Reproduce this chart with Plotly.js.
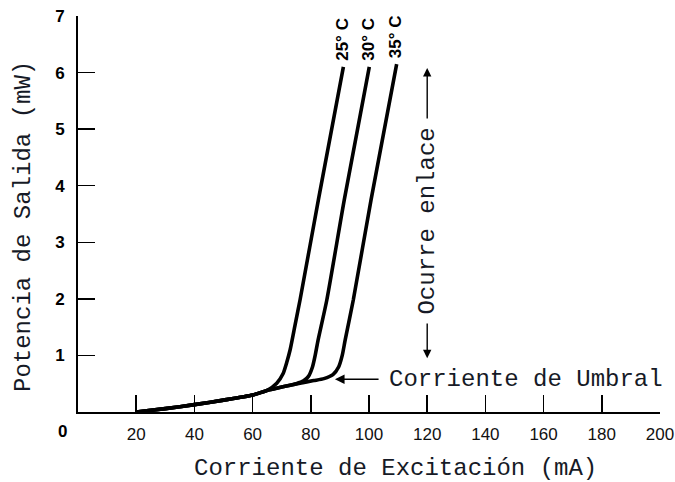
<!DOCTYPE html>
<html>
<head>
<meta charset="utf-8">
<script src="https://cdn.plot.ly/plotly-3.0.1.min.js"></script>
<style>html,body{margin:0;padding:0;background:#fff;}#chart{width:675px;height:482px;}</style>
</head>
<body>
<div id="chart"></div>
<script>
// Data (current in mA, power in mW)
const current25 = [20, 30, 40, 50, 60, 64.9, 68.3, 70.5, 71.7, 72.9, 74.6, 76.3, 82.6, 91.2];
const power25   = [0, 0.06, 0.13, 0.21, 0.30, 0.38, 0.51, 0.68, 0.87, 1.10, 1.54, 1.98, 3.75, 6.10];

const current30 = [20, 30, 40, 50, 60, 64.9, 70, 75, 77.5, 79.2, 80.6, 81.5, 82.5, 85.5, 91.5, 100.1];
const power30   = [0, 0.06, 0.13, 0.21, 0.30, 0.38, 0.44, 0.50, 0.55, 0.63, 0.80, 1.00, 1.27, 1.98, 3.75, 6.10];

const current35 = [20, 30, 40, 50, 60, 64.9, 70, 76.3, 81, 84.5, 87.6, 89.6, 90.8, 91.8, 94.6, 100.7, 109.5];
const power35   = [0, 0.06, 0.13, 0.21, 0.30, 0.38, 0.44, 0.51, 0.555, 0.59, 0.66, 0.80, 1.00, 1.27, 1.98, 3.75, 6.15];

const seriesNames = ["25° C", "30° C", "35° C"];
const xTickVals = [20, 40, 60, 80, 100, 120, 140, 160, 180, 200];
const yTickVals = [1, 2, 3, 4, 5, 6, 7];

const monoFont = {family: "Liberation Mono, Courier New, monospace", size: 24, color: "#161a26"};
const boldSans = {family: "Liberation Sans, Arial, sans-serif", size: 17, color: "#000"};

const series = [[current25, power25], [current30, power30], [current35, power35]];
const traces = series.map((s, i) => ({
  x: s[0], y: s[1], name: seriesNames[i], type: "scatter", mode: "lines",
  line: {color: "#000", width: 3.6, shape: "spline", smoothing: 0.6},
  hoverinfo: "skip"
}));

const L = 78, R = 15, T = 16, B = 70, W = 675, H = 482;
const pw = W - L - R, ph = H - T - B;

const annotations = [];
// temperature labels at curve tops
series.forEach((s, i) => {
  annotations.push({
    x: s[0][s[0].length - 1], y: s[1][s[1].length - 1], xref: "x", yref: "y",
    text: "<b>" + seriesNames[i] + "</b>", showarrow: false, textangle: -90,
    xanchor: "center", yanchor: "bottom", yshift: 4, xshift: -1, font: boldSans
  });
});
// origin label
annotations.push({x: 0, y: 0, xref: "x", yref: "y", text: "<b>0</b>", showarrow: false,
  xanchor: "center", yanchor: "middle",
  xshift: -16, yshift: -19, font: {family: "Liberation Sans, Arial, sans-serif", size: 17, color: "#000"}});
// Corriente de Umbral with arrow
annotations.push({x: 106.3, y: 0.58, xref: "x", yref: "y", text: "Corriente de Umbral",
  showarrow: false, xanchor: "left", yanchor: "middle", font: monoFont});
annotations.push({x: 88.3, y: 0.58, ax: 103.8, ay: 0.58, xref: "x", yref: "y", axref: "x", ayref: "y",
  text: "", showarrow: true, arrowhead: 2, arrowsize: 1.2, arrowwidth: 1.6, arrowcolor: "#000"});
// Ocurre enlace with arrows
annotations.push({x: 120, y: 3.37, xref: "x", yref: "y", text: "Ocurre enlace", showarrow: false,
  xanchor: "center", yanchor: "middle", textangle: -90, font: monoFont});
annotations.push({x: 120, y: 6.08, ax: 120, ay: 5.16, xref: "x", yref: "y", axref: "x", ayref: "y",
  text: "", showarrow: true, arrowhead: 2, arrowsize: 1.2, arrowwidth: 1.4, arrowcolor: "#000"});
annotations.push({x: 120, y: 0.95, ax: 120, ay: 1.59, xref: "x", yref: "y", axref: "x", ayref: "y",
  text: "", showarrow: true, arrowhead: 2, arrowsize: 1.2, arrowwidth: 1.4, arrowcolor: "#000"});
// axis titles (placed in paper coordinates)
annotations.push({x: (395 - L) / pw, y: (H - B - 468) / ph, xref: "paper", yref: "paper",
  xanchor: "center", yanchor: "middle",
  text: "Corriente de Excitación (mA)", showarrow: false, font: monoFont});
annotations.push({x: (23 - L) / pw, y: (H - B - 227) / ph, xref: "paper", yref: "paper",
  xanchor: "center", yanchor: "middle",
  text: "Potencia de Salida (mW)", showarrow: false, textangle: -90, font: monoFont});

const layout = {
  width: W, height: H,
  margin: {l: L, r: R, t: T, b: B, pad: 0},
  paper_bgcolor: "#fff", plot_bgcolor: "#fff",
  showlegend: false,
  xaxis: {
    range: [0, 200], tickvals: xTickVals, ticks: "inside", ticklen: 17, tickwidth: 1.5,
    tickcolor: "#000", showline: true, linecolor: "#000", linewidth: 2, showgrid: false, zeroline: false,
    tickfont: {family: "Liberation Sans, Arial, sans-serif", size: 17, color: "#111"},
    ticklabelstandoff: 6, fixedrange: true
  },
  yaxis: {
    range: [0, 7], tickvals: yTickVals, ticktext: yTickVals.map(v => "<b>" + v + "</b>"),
    ticks: "inside", ticklen: 17, tickwidth: 1.5,
    tickcolor: "#000", showline: true, linecolor: "#000", linewidth: 2, showgrid: false, zeroline: false,
    tickfont: boldSans, ticklabelstandoff: 8, fixedrange: true
  },
  annotations: annotations
};

Plotly.newPlot("chart", traces, layout, {displayModeBar: false, staticPlot: true});
</script>
</body>
</html>
